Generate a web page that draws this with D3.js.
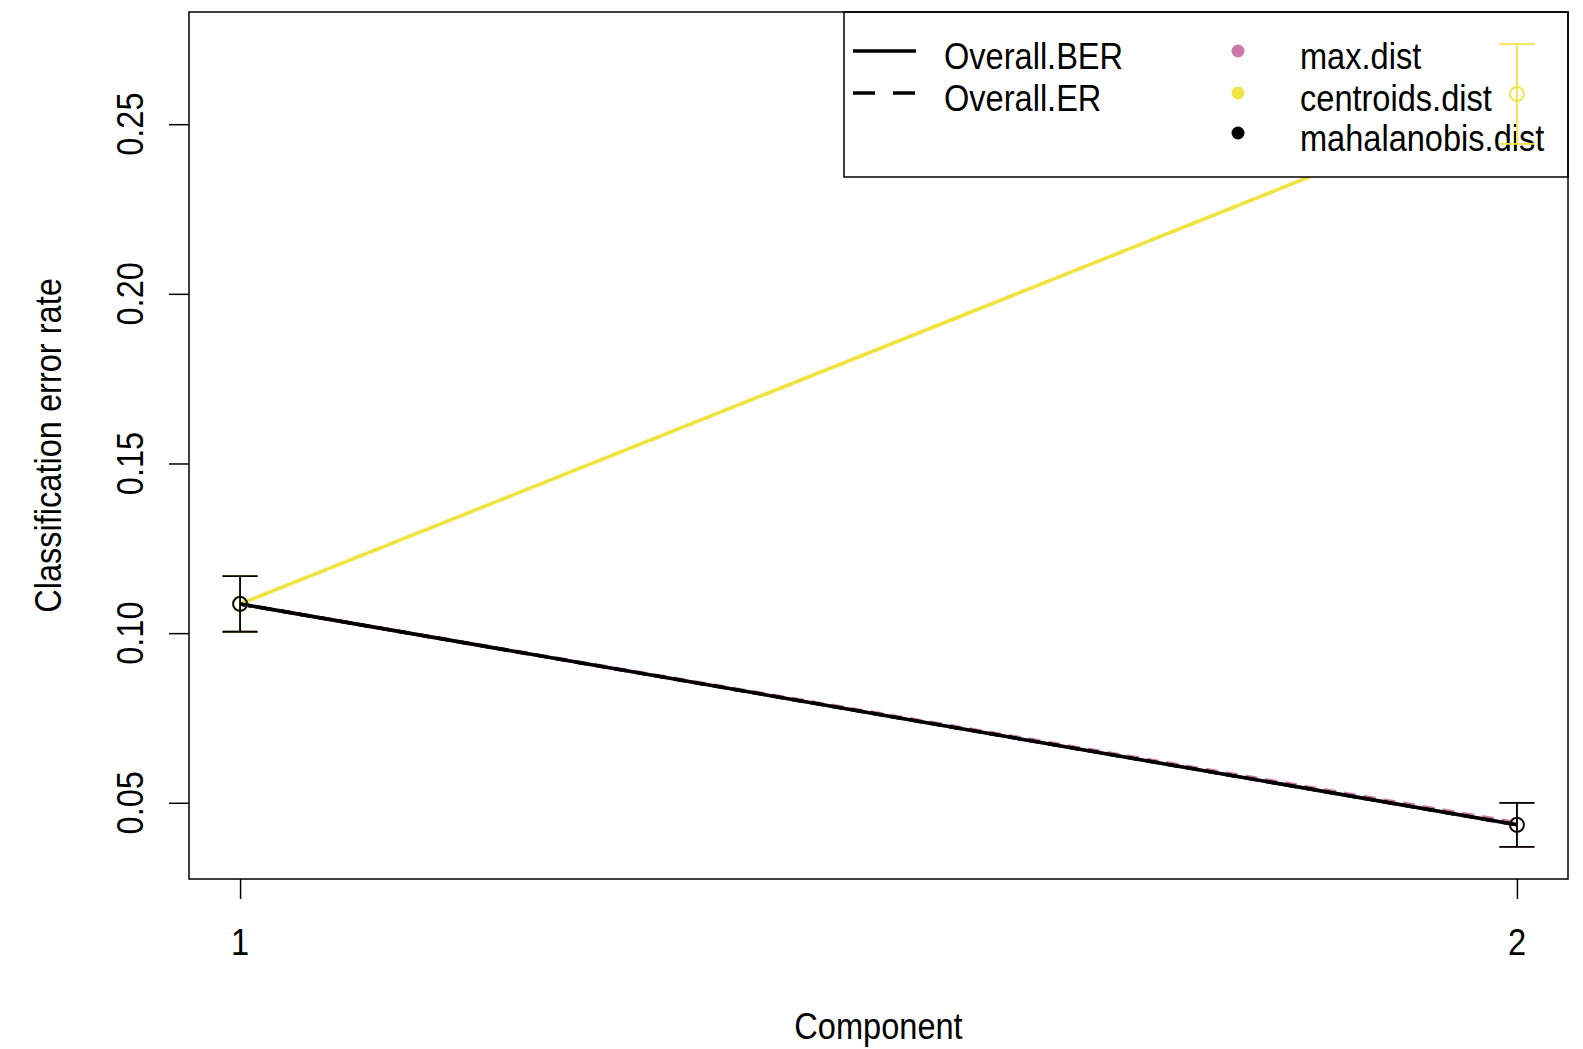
<!DOCTYPE html>
<html>
<head>
<meta charset="utf-8">
<script src="https://cdn.jsdelivr.net/npm/d3@7"></script>
<style>
  body { margin: 0; background: #fff; }
  text { font-family: "Liberation Sans", Arial, sans-serif; fill: #000; }
</style>
</head>
<body>
<div id="chart"></div>
<script>
// values
const components = [1, 2];
const distances = ["max.dist", "centroids.dist", "mahalanobis.dist"];
const distColors = ["#CC79A7", "#F0E442", "#000000"];
const berMean = [[0.1086, 0.0435], [0.1086, 0.2589], [0.1086, 0.0435]];
const erMean = [[0.1086, 0.0441], [0.1086, 0.2589], [0.1086, 0.0435]];
const berSd = [[0.0082, 0.0065], [0.0082, 0.0147], [0.0082, 0.0065]];
const yTicks = [0.05, 0.10, 0.15, 0.20, 0.25];
const measures = ["Overall.BER", "Overall.ER"];

const W = 1583, H = 1049;
const box = { left: 189, right: 1568, top: 12, bottom: 879 };
const FS = 37, SX = 0.88;

const svg = d3.select("#chart").append("svg").attr("width", W).attr("height", H);
svg.append("rect").attr("width", W).attr("height", H).attr("fill", "#fff");

// R-style 4% padding on both scales
const xPad = (components[1] - components[0]) * 0.04;
const x = d3.scaleLinear().domain([components[0] - xPad, components[1] + xPad]).range([box.left, box.right]);
const allY = [];
distances.forEach((d, i) => components.forEach((c, j) => {
    allY.push(berMean[i][j] - berSd[i][j], berMean[i][j] + berSd[i][j], erMean[i][j]);
}));
const [yMin, yMax] = d3.extent(allY);
const yPad = (yMax - yMin) * 0.04;
const y = d3.scaleLinear().domain([yMin - yPad, yMax + yPad]).range([box.bottom, box.top]);

// lines
const line = d3.line().x((d, j) => x(components[j])).y((d) => y(d));
distances.forEach((d, i) => {
    svg.append("path").attr("d", line(erMean[i])).attr("fill", "none")
        .attr("stroke", distColors[i]).attr("stroke-width", 3.5).attr("stroke-dasharray", "12,8");
    svg.append("path").attr("d", line(berMean[i])).attr("fill", "none")
        .attr("stroke", distColors[i]).attr("stroke-width", 3.5);
});

// axes
const yAxis = svg.append("g").attr("transform", `translate(${box.left},0)`)
    .call(d3.axisLeft(y).tickValues(yTicks).tickSize(20).tickFormat(""));
const xAxis = svg.append("g").attr("transform", `translate(0,${box.bottom})`)
    .call(d3.axisBottom(x).tickValues(components).tickSize(20).tickFormat(""));
[xAxis, yAxis].forEach((g) => {
    g.select(".domain").remove();
    g.selectAll("line").attr("stroke", "#000").attr("stroke-width", 1.5);
});

function label(txt, tx, ty, rot, anchor) {
    svg.append("g")
        .attr("transform", `translate(${tx},${ty}) rotate(${rot}) scale(${SX},1)`)
        .append("text").attr("text-anchor", anchor || "middle")
        .style("font-size", FS + "px").text(txt);
}
yTicks.forEach((t) => label(d3.format(".2f")(t), 143, y(t), -90));
components.forEach((c) => label(String(c), x(c), 955, 0));
label("Component", (box.left + box.right) / 2, 1039, 0);
label("Classification error rate", 61, (box.top + box.bottom) / 2, -90);

// legend
const lg = { left: 844, top: box.top, bottom: 177 };
svg.append("rect").attr("x", lg.left).attr("y", lg.top)
    .attr("width", box.right - lg.left).attr("height", lg.bottom - lg.top)
    .attr("fill", "#fff").attr("stroke", "#000").attr("stroke-width", 1.5);
const rowY = [55, 97, 137];
measures.forEach((m, k) => {
    svg.append("line").attr("x1", 853).attr("x2", 916).attr("y1", rowY[k] - 4).attr("y2", rowY[k] - 4)
        .attr("stroke", "#000").attr("stroke-width", 3.5)
        .attr("stroke-dasharray", k === 1 ? "22,18" : null);
    label(m, 944, rowY[k] + 14, 0, "start");
});
distances.forEach((d, i) => {
    svg.append("circle").attr("cx", 1238).attr("cy", rowY[i] - 4).attr("r", 6.5).attr("fill", distColors[i]);
    label(d, 1300, rowY[i] + 14, 0, "start");
});

// error bars and points
const cap = 17.5;
distances.forEach((d, i) => {
    components.forEach((c, j) => {
        const cx = x(c), lo = y(berMean[i][j] - berSd[i][j]), hi = y(berMean[i][j] + berSd[i][j]);
        const g = svg.append("g").attr("stroke", distColors[i]).attr("stroke-width", 1.8);
        g.append("line").attr("x1", cx).attr("x2", cx).attr("y1", lo).attr("y2", hi);
        g.append("line").attr("x1", cx - cap).attr("x2", cx + cap).attr("y1", lo).attr("y2", lo);
        g.append("line").attr("x1", cx - cap).attr("x2", cx + cap).attr("y1", hi).attr("y2", hi);
        g.append("circle").attr("cx", cx).attr("cy", y(berMean[i][j])).attr("r", 7).attr("fill", "none");
    });
});

// plot box
svg.append("rect").attr("x", box.left).attr("y", box.top)
    .attr("width", box.right - box.left).attr("height", box.bottom - box.top)
    .attr("fill", "none").attr("stroke", "#000").attr("stroke-width", 1.5);
</script>
</body>
</html>
